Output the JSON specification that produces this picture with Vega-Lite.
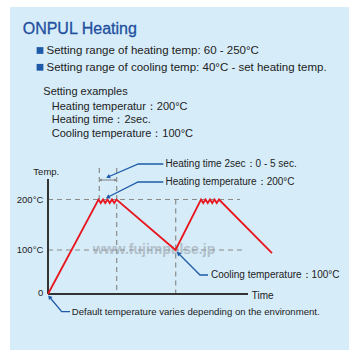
{
  "$schema": "https://vega.github.io/schema/vega-lite/v6.json",
  "background": "white",
  "padding": {"left": 10, "top": 7, "right": 11, "bottom": 6},
  "spacing": 0,
  "config": {"view": {"stroke": null, "fill": "#d6ecf9"}, "font": "Liberation Sans"},
  "datasets": {
    "title": [{"text": "ONPUL Heating", "col": 12.7, "row": 21.5}],
    "bullets": [{"col": 30, "row": 43.5}, {"col": 30, "row": 60.3}],
    "bulletText": [
      {"text": "Setting range of heating temp: 60 - 250°C", "col": 36.5, "row": 44.4},
      {"text": "Setting range of cooling temp: 40°C - set heating temp.", "col": 36.5, "row": 61}
    ],
    "examples": [
      {"text": "Setting examples", "col": 33.3, "row": 84.7},
      {"text": "Heating temperatur：200°C", "col": 41.7, "row": 99.7},
      {"text": "Heating time：2sec.", "col": 41.7, "row": 113},
      {"text": "Cooling temperature：100°C", "col": 41.7, "row": 126.8}
    ],
    "guides": [
      {"t": 51.3, "temp": 262.4, "t2": 51.3, "temp2": 200},
      {"t": 68.7, "temp": 262.4, "t2": 68.7, "temp2": 0},
      {"t": 127.7, "temp": 200, "t2": 127.7, "temp2": 0},
      {"t": 0, "temp": 200, "t2": 192, "temp2": 200},
      {"t": 0, "temp": 100, "t2": 197, "temp2": 100}
    ],
    "axes": [
      {"t": 0, "temp": 240.6, "t2": 0, "temp2": 0},
      {"t": 0, "temp": 0, "t2": 200, "temp2": 0}
    ],
    "span": [{"t": 52.5, "temp": 238.6, "t2": 67.5, "temp2": 238.6}],
    "profile": [
      {"t": 0, "temp": 0},
      {"t": 50.5, "temp": 200},
      {"t": 52.75, "temp": 193},
      {"t": 55, "temp": 200},
      {"t": 57.25, "temp": 193},
      {"t": 59.5, "temp": 200},
      {"t": 61.75, "temp": 193},
      {"t": 64, "temp": 200},
      {"t": 66.25, "temp": 193},
      {"t": 68.5, "temp": 200},
      {"t": 127.5, "temp": 100},
      {"t": 153, "temp": 200},
      {"t": 155.25, "temp": 193},
      {"t": 157.5, "temp": 200},
      {"t": 159.75, "temp": 193},
      {"t": 162, "temp": 200},
      {"t": 164.25, "temp": 193},
      {"t": 166.5, "temp": 200},
      {"t": 168.75, "temp": 193},
      {"t": 171, "temp": 200},
      {"t": 224, "temp": 93}
    ],
    "leaders": [
      {"id": "time", "seq": 0, "t": 60, "temp": 244.6},
      {"id": "time", "seq": 1, "t": 90.3, "temp": 270.3},
      {"id": "time", "seq": 2, "t": 115.3, "temp": 270.3},
      {"id": "heat", "seq": 0, "t": 59.7, "temp": 204.4},
      {"id": "heat", "seq": 1, "t": 90, "temp": 234.7},
      {"id": "heat", "seq": 2, "t": 115.3, "temp": 234.7},
      {"id": "cool", "seq": 0, "t": 130.3, "temp": 92.5},
      {"id": "cool", "seq": 1, "t": 152, "temp": 43.2},
      {"id": "cool", "seq": 2, "t": 160, "temp": 43.2},
      {"id": "default", "seq": 0, "t": 1.5, "temp": -6.8},
      {"id": "default", "seq": 1, "t": 13.7, "temp": -40.2},
      {"id": "default", "seq": 2, "t": 22, "temp": -40.2}
    ],
    "notes": [
      {"text": "Heating time 2sec：0 - 5 sec.", "t": 117.5, "temp": 270.3},
      {"text": "Heating temperature：200°C", "t": 117.5, "temp": 234.7},
      {"text": "Cooling temperature：100°C", "t": 163, "temp": 43.2},
      {"text": "Time", "t": 203.7, "temp": -4.5}
    ],
    "footnote": [
      {"text": "Default temperature varies depending on the environment.", "t": 23.7, "temp": -40.2}
    ],
    "ticks": [
      {"text": "200°C", "t": -4.7, "temp": 200},
      {"text": "100°C", "t": -4.7, "temp": 100},
      {"text": "0", "t": -4.7, "temp": 1.5}
    ],
    "ytitle": [{"text": "Temp.", "t": -1.7, "temp": 255}],
    "watermark": [{"text": "www.fujimpulse.jp", "t": 106, "temp": 100}]
  },
  "vconcat": [
    {
      "width": 339,
      "height": 143,
      "encoding": {
        "x": {"field": "col", "type": "quantitative", "scale": {"domain": [0, 339], "nice": false, "zero": false}, "axis": null},
        "y": {"field": "row", "type": "quantitative", "scale": {"domain": [0, 143], "range": [0, 143], "nice": false, "zero": false}, "axis": null}
      },
      "layer": [
        {"data": {"name": "title"}, "mark": {"type": "text", "align": "left", "baseline": "middle", "fontSize": 16, "color": "#1f4f9e", "stroke": "#1f4f9e", "strokeWidth": 0.3}, "encoding": {"text": {"field": "text"}}},
        {"data": {"name": "bullets"}, "mark": {"type": "point", "shape": "square", "filled": true, "size": 46, "color": "#1f5aa8", "opacity": 1}},
        {"data": {"name": "bulletText"}, "mark": {"type": "text", "align": "left", "baseline": "middle", "fontSize": 11.5, "color": "#222222"}, "encoding": {"text": {"field": "text"}}},
        {"data": {"name": "examples"}, "mark": {"type": "text", "align": "left", "baseline": "middle", "fontSize": 11, "color": "#222222"}, "encoding": {"text": {"field": "text"}}}
      ]
    },
    {
      "width": 339,
      "height": 200,
      "encoding": {
        "x": {"field": "t", "type": "quantitative", "scale": {"domain": [-38, 301], "nice": false, "zero": false}, "axis": null},
        "y": {"field": "temp", "type": "quantitative", "scale": {"domain": [0, 100, 200], "range": [144, 100, 49.5], "nice": false, "zero": false}, "axis": null}
      },
      "layer": [
        {"data": {"name": "guides"}, "mark": {"type": "rule", "color": "#8a8a8a", "strokeWidth": 1.2, "strokeDash": [5, 4]}, "encoding": {"x2": {"field": "t2"}, "y2": {"field": "temp2"}}},
        {"data": {"name": "watermark"}, "mark": {"type": "text", "align": "center", "baseline": "middle", "fontSize": 14, "fontWeight": "bold", "color": "#9aa3aa", "opacity": 0.6}, "encoding": {"text": {"field": "text"}}},
        {"data": {"name": "axes"}, "mark": {"type": "rule", "color": "#333333", "strokeWidth": 2}, "encoding": {"x2": {"field": "t2"}, "y2": {"field": "temp2"}}},
        {"data": {"name": "span"}, "mark": {"type": "rule", "color": "#808080", "strokeWidth": 1}, "encoding": {"x2": {"field": "t2"}, "y2": {"field": "temp2"}}},
        {"data": {"name": "span"}, "mark": {"type": "point", "shape": "triangle-left", "filled": true, "size": 8, "color": "#808080", "opacity": 1}},
        {"data": {"name": "span"}, "mark": {"type": "point", "shape": "triangle-right", "filled": true, "size": 8, "color": "#808080", "opacity": 1}, "encoding": {"x": {"field": "t2", "type": "quantitative"}}},
        {"data": {"name": "profile"}, "mark": {"type": "line", "color": "#e8161e", "strokeWidth": 1.8}},
        {"data": {"name": "leaders"}, "mark": {"type": "line", "color": "#1d5ba8", "strokeWidth": 1.3}, "encoding": {"detail": {"field": "id"}, "order": {"field": "seq", "type": "quantitative"}}},
        {"data": {"name": "leaders"}, "transform": [{"filter": "datum.id == 'time' && datum.seq == 0"}], "mark": {"type": "point", "shape": "triangle-up", "filled": true, "size": 22, "angle": 247.5, "color": "#1d5ba8", "opacity": 1}},
        {"data": {"name": "leaders"}, "transform": [{"filter": "datum.id == 'heat' && datum.seq == 0"}], "mark": {"type": "point", "shape": "triangle-up", "filled": true, "size": 22, "angle": 243.4, "color": "#1d5ba8", "opacity": 1}},
        {"data": {"name": "leaders"}, "transform": [{"filter": "datum.id == 'cool' && datum.seq == 0"}], "mark": {"type": "point", "shape": "triangle-up", "filled": true, "size": 22, "angle": 315, "color": "#1d5ba8", "opacity": 1}},
        {"data": {"name": "leaders"}, "transform": [{"filter": "datum.id == 'default' && datum.seq == 0"}], "mark": {"type": "point", "shape": "triangle-up", "filled": true, "size": 22, "angle": 320.3, "color": "#1d5ba8", "opacity": 1}},
        {"data": {"name": "notes"}, "mark": {"type": "text", "align": "left", "baseline": "middle", "fontSize": 10, "color": "#222222"}, "encoding": {"text": {"field": "text"}}},
        {"data": {"name": "footnote"}, "mark": {"type": "text", "align": "left", "baseline": "middle", "fontSize": 9.6, "color": "#222222"}, "encoding": {"text": {"field": "text"}}},
        {"data": {"name": "ticks"}, "mark": {"type": "text", "align": "right", "baseline": "middle", "fontSize": 9.5, "color": "#222222"}, "encoding": {"text": {"field": "text"}}},
        {"data": {"name": "ytitle"}, "mark": {"type": "text", "align": "center", "baseline": "middle", "fontSize": 9.5, "color": "#222222"}, "encoding": {"text": {"field": "text"}}}
      ]
    }
  ]
}
